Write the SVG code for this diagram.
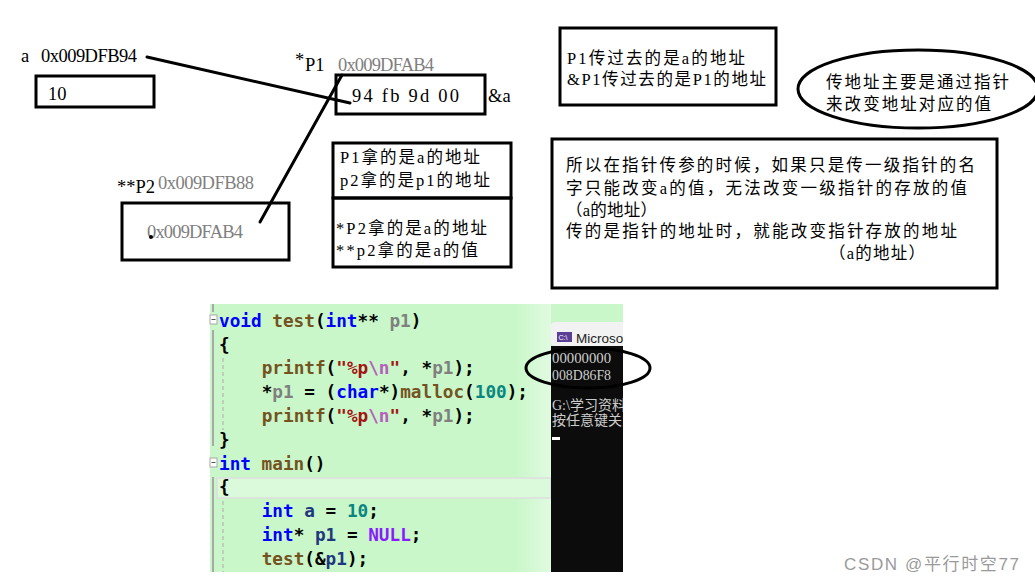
<svg xmlns="http://www.w3.org/2000/svg" width="1035" height="582" viewBox="0 0 1035 582">
<style>
.box{fill:none;stroke:#000;stroke-width:3}
.lbl{font-family:"Liberation Serif","Noto Sans CJK SC",serif;font-size:18.5px;fill:#000}
.gray{fill:#7f7f7f}
.cn{font-family:"Liberation Serif","Noto Sans CJK SC",serif;font-size:16.5px;fill:#000}
.conn{stroke:#000;stroke-width:3;fill:none;stroke-linecap:round}
.code{font-family:"DejaVu Sans Mono","Liberation Mono",monospace;font-weight:bold;font-size:17.7px;fill:#000}
.kw{fill:#0000ff}.fn{fill:#74531f}.pr{fill:#808080}.st{fill:#a31515}.es{fill:#b75ec0}.nm{fill:#098680}.mc{fill:#8a1bff}.lv{fill:#1f377f}
.con{font-family:"Liberation Serif","Noto Sans CJK SC",serif;font-size:14px;fill:#cccccc}
.wm{font-family:"Liberation Sans","Noto Sans CJK SC",sans-serif;font-size:17px;fill:#9a9a9a}
</style>
<defs>
<clipPath id="cclip"><rect x="551" y="322" width="72" height="250"/></clipPath>
<linearGradient id="fade" x1="0" x2="1" y1="0" y2="0">
<stop offset="0" stop-color="#ffffff" stop-opacity="0"/>
<stop offset="1" stop-color="#ffffff" stop-opacity="0.45"/>
</linearGradient>
</defs>
<rect width="1035" height="582" fill="#fff"/>

<g id="connectors">
<line class="conn" x1="147" y1="57" x2="350" y2="103"/>
<line class="conn" x1="342" y1="75" x2="260" y2="222"/>
</g>

<g id="node-a">
<text class="lbl" x="21" y="62">a <tspan x="41" textLength="96">0x009DFB94</tspan></text>
<rect class="box" x="36" y="76" width="118" height="31"/>
<text class="lbl" x="48" y="100" font-size="19">10</text>
</g>

<g id="node-p1">
<text class="lbl" x="295" y="66" font-size="19">*<tspan x="305" y="71">P1</tspan></text>
<text class="lbl gray" x="338" y="71" font-size="17" textLength="96">0x009DFAB4</text>
<rect class="box" x="336" y="75" width="149" height="39"/>
<text class="lbl" x="352" y="102" textLength="107">94 fb 9d 00</text>
<text class="lbl" x="488" y="102" font-size="17">&amp;a</text>
</g>

<g id="node-p2">
<text class="lbl" x="117" y="193" font-size="19">**P2</text>
<text class="lbl gray" x="158" y="189" font-size="17" textLength="96">0x009DFB88</text>
<rect class="box" x="122" y="203" width="167" height="57"/>
<text class="lbl gray" x="147" y="238" font-size="17" textLength="96">0x009DFAB4</text>
<circle cx="151" cy="237" r="2" fill="#000"/>
</g>

<g id="note-p1p2">
<rect class="box" x="333" y="143" width="178" height="55"/>
<text class="cn" x="340" y="163" textLength="140">P1拿的是a的地址</text>
<text class="cn" x="340" y="186" textLength="150">p2拿的是p1的地址</text>
</g>

<g id="note-p2">
<rect class="box" x="333" y="198" width="178" height="69"/>
<text class="cn" x="336" y="234" textLength="151">*P2拿的是a的地址</text>
<text class="cn" x="336" y="256" textLength="142">**p2拿的是a的值</text>
</g>

<g id="note-pass">
<rect class="box" x="560" y="28" width="216" height="77"/>
<text class="cn" x="567" y="64" textLength="178">P1传过去的是a的地址</text>
<text class="cn" x="567" y="85" textLength="199">&amp;P1传过去的是P1的地址</text>
</g>

<g id="note-ellipse">
<ellipse cx="918" cy="89" rx="120" ry="39" fill="none" stroke="#000" stroke-width="3"/>
<text class="cn" x="826" y="88" textLength="183">传地址主要是通过指针</text>
<text class="cn" x="826" y="110" textLength="165">来改变地址对应的值</text>
</g>

<g id="note-summary">
<rect class="box" x="552" y="139" width="445" height="149"/>
<text class="cn" x="566" y="171" textLength="409">所以在指针传参的时候，如果只是传一级指针的名</text>
<text class="cn" x="566" y="194" textLength="401">字只能改变a的值，无法改变一级指针的存放的值</text>
<text class="cn" x="566" y="216" textLength="91">（a的地址）</text>
<text class="cn" x="566" y="237" textLength="391">传的是指针的地址时，就能改变指针存放的地址</text>
<text class="cn" x="829" y="259" textLength="96">（a的地址）</text>
</g>

<g id="code-screenshot">
<rect x="210" y="304" width="413" height="268" fill="#c9f7c9"/>
<rect x="515" y="304" width="36" height="268" fill="url(#fade)"/>
<rect x="217" y="478" width="334" height="20" fill="#dbfadb" stroke="#dedede" stroke-width="1.5"/>
<line x1="213" y1="330" x2="213" y2="446" stroke="#a8a8a8" stroke-width="2"/>
<line x1="213" y1="477" x2="213" y2="572" stroke="#a8a8a8" stroke-width="2"/>
<line x1="213" y1="304" x2="213" y2="312" stroke="#a8a8a8" stroke-width="2"/>
<rect x="210" y="315" width="7" height="9" fill="#fff" stroke="#a8a8a8"/>
<line x1="211.5" y1="319.5" x2="215.5" y2="319.5" stroke="#555"/>
<rect x="210" y="458" width="7" height="9" fill="#fff" stroke="#a8a8a8"/>
<line x1="211.5" y1="462.5" x2="215.5" y2="462.5" stroke="#555"/>
<line x1="223" y1="358" x2="223" y2="430" stroke="#c0c0c0" stroke-width="1.5" stroke-dasharray="4,3"/>
<line x1="223" y1="501" x2="223" y2="572" stroke="#c0c0c0" stroke-width="1.5" stroke-dasharray="4,3"/>
<g class="code" xml:space="preserve">
<text x="219" y="327"><tspan class="kw">void</tspan> <tspan class="fn">test</tspan>(<tspan class="kw">int</tspan>** <tspan class="pr">p1</tspan>)</text>
<text x="219" y="351">{</text>
<text x="261.7" y="374"><tspan class="fn">printf</tspan>(<tspan class="st">"%p</tspan><tspan class="es">\n</tspan><tspan class="st">"</tspan>, *<tspan class="pr">p1</tspan>);</text>
<text x="261.7" y="398">*<tspan class="pr">p1</tspan> = (<tspan class="kw">char</tspan>*)<tspan class="fn">malloc</tspan>(<tspan class="nm">100</tspan>);</text>
<text x="261.7" y="422"><tspan class="fn">printf</tspan>(<tspan class="st">"%p</tspan><tspan class="es">\n</tspan><tspan class="st">"</tspan>, *<tspan class="pr">p1</tspan>);</text>
<text x="219" y="446">}</text>
<text x="219" y="470"><tspan class="kw">int</tspan> <tspan class="fn">main</tspan>()</text>
<text x="219" y="493">{</text>
<text x="261.7" y="517"><tspan class="kw">int</tspan> <tspan class="lv">a</tspan> = <tspan class="nm">10</tspan>;</text>
<text x="261.7" y="541"><tspan class="kw">int</tspan>* <tspan class="lv">p1</tspan> = <tspan class="mc">NULL</tspan>;</text>
<text x="261.7" y="565"><tspan class="fn">test</tspan>(&amp;<tspan class="lv">p1</tspan>);</text>
</g>
</g>

<g id="console" clip-path="url(#cclip)">
<rect x="551" y="322" width="80" height="24" rx="4" fill="#f2f2f2"/>
<rect x="551" y="346" width="80" height="226" fill="#0c0c0c"/>
<rect x="557" y="332" width="15" height="10" fill="#5b3e96"/>
<text x="558.5" y="340" font-family="Liberation Sans, sans-serif" font-size="7" fill="#fff">C:\</text>
<text x="576" y="343" font-family="Liberation Sans, sans-serif" font-size="13.5" fill="#222">Microsoft</text>
<text class="con" x="552" y="363" textLength="59" lengthAdjust="spacingAndGlyphs">00000000</text>
<text class="con" x="552" y="380" textLength="59" lengthAdjust="spacingAndGlyphs">008D86F8</text>
<text class="con" x="552" y="410">G:\学习资料</text>
<text class="con" x="552" y="425">按任意键关闭</text>
<rect x="552" y="437" width="8" height="3" fill="#fff"/>
</g>

<g id="console-ellipse">
<ellipse cx="588" cy="368" rx="62" ry="20" fill="none" stroke="#000" stroke-width="3"/>
</g>

<text class="wm" x="844" y="570" textLength="175">CSDN @平行时空77</text>
</svg>
